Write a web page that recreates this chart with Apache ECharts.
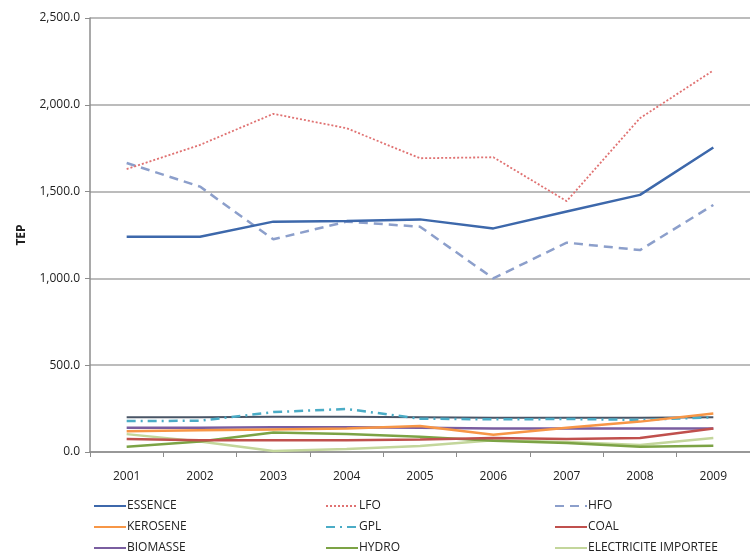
<!DOCTYPE html>
<html>
<head>
<meta charset="utf-8">
<script src="https://cdn.jsdelivr.net/npm/echarts@6/dist/echarts.min.js"></script>
<style>
html,body{margin:0;padding:0;background:#fff;}
#chart{width:750px;height:553px;}
</style>
</head>
<body>
<div id="chart"></div>
<script>
var years = ['2001','2002','2003','2004','2005','2006','2007','2008','2009'];
var yTicks = [0, 500, 1000, 1500, 2000, 2500];

var essence    = [1240, 1240, 1327, 1331, 1340, 1288, 1385, 1481, 1754];
var lfo        = [1630, 1769, 1948, 1865, 1692, 1698, 1445, 1923, 2198];
var hfo        = [1665, 1529, 1225, 1327, 1298, 1000, 1206, 1163, 1423];
var kerosene   = [120, 125, 130, 135, 150, 100, 140, 175, 222];
var gpl        = [178, 180, 230, 248, 192, 188, 190, 185, 200];
var coal       = [75, 68, 68, 68, 72, 80, 75, 80, 135];
var biomasse   = [140, 140, 142, 142, 140, 136, 136, 136, 135];
var hydro      = [30, 60, 112, 103, 88, 65, 52, 30, 36];
var electricite= [103, 60, 6, 17, 34, 68, 58, 40, 80];
var autre      = [200, 200, 203, 203, 200, 197, 197, 197, 200];

var FONT = "'Liberation Sans Narrow','Open Sans',Arial,sans-serif";

function fmt(v){
  var s = Math.round(v).toString().replace(/\B(?=(\d{3})+(?!\d))/g, ',');
  return s + '.0';
}

function line(name, data, color, width, type){
  return {
    name: name, type: 'line', data: data, symbol: 'none', smooth: false,
    lineStyle: {color: color, width: width, type: type || 'solid', cap: 'butt'},
    itemStyle: {color: color},
    emphasis: {disabled: true}, animation: false
  };
}

var series = [
  line('AUTRE', autre, '#4a5566', 2),
  line('ELECTRICITE IMPORTEE', electricite, '#c3d69b', 2.5),
  line('HYDRO', hydro, '#7ca345', 2.5),
  line('BIOMASSE', biomasse, '#7a5ea0', 2.5),
  line('COAL', coal, '#c0504d', 2.5),
  line('GPL', gpl, '#4bacc6', 2.5, [9,5,2,5]),
  line('KEROSENE', kerosene, '#f79646', 2.5),
  line('HFO', hfo, '#8c9fcb', 2.5, [9,6]),
  line('LFO', lfo, '#e07272', 1.8, [2,2]),
  line('ESSENCE', essence, '#3d68ab', 2.5)
];

function legend(left, names){
  return {
    orient: 'vertical', left: left, top: 495, height: 58, itemGap: 9,
    itemWidth: 32, itemHeight: 10, selectedMode: false,
    itemStyle: {opacity: 0},
    data: names,
    textStyle: {fontFamily: FONT, fontSize: 12, color: '#222', padding: [0,0,0,-4]}
  };
}

var chart = echarts.init(document.getElementById('chart'), null, {renderer: 'canvas'});
chart.setOption({
  animation: false,
  backgroundColor: '#fff',
  grid: {left: 90, right: 0, top: 18, bottom: 101, containLabel: false},
  legend: [
    legend(88, ['ESSENCE','KEROSENE','BIOMASSE']),
    legend(320, ['LFO','GPL','HYDRO']),
    legend(549, ['HFO','COAL','ELECTRICITE IMPORTEE'])
  ],
  xAxis: {
    type: 'category', data: years, boundaryGap: true,
    axisLine: {lineStyle: {color: '#8c8c8c', width: 1.5}},
    axisTick: {show: true, length: 5, lineStyle: {color: '#8c8c8c'}},
    axisLabel: {fontFamily: FONT, fontSize: 12, color: '#222', margin: 19}
  },
  yAxis: {
    type: 'value', min: yTicks[0], max: yTicks[yTicks.length-1], interval: 500,
    name: 'TEP', nameLocation: 'middle', nameGap: 62, nameRotate: 90,
    nameTextStyle: {fontFamily: FONT, fontSize: 12, fontWeight: 'bold', color: '#222'},
    axisLine: {show: true, lineStyle: {color: '#8c8c8c', width: 1.5}},
    axisTick: {show: true, length: 5, lineStyle: {color: '#8c8c8c'}},
    splitLine: {lineStyle: {color: '#a6a6a6', width: 1.5}},
    axisLabel: {fontFamily: FONT, fontSize: 12, color: '#222', margin: 10, formatter: fmt}
  },
  series: series
});
</script>
</body>
</html>
